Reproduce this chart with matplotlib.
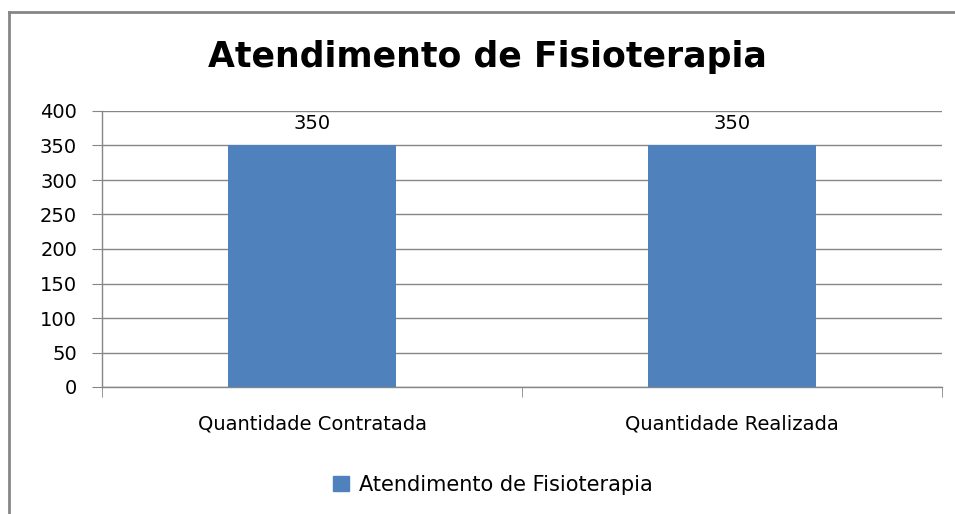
import matplotlib
matplotlib.use("Agg")
import matplotlib.pyplot as plt
from matplotlib.patches import Rectangle
from matplotlib.lines import Line2D

title = "Atendimento de Fisioterapia"
categories = ["Quantidade Contratada", "Quantidade Realizada"]
series_name = "Atendimento de Fisioterapia"
values = [350, 350]
yticks = [0, 50, 100, 150, 200, 250, 300, 350, 400]

W, H = 955, 514
fig = plt.figure(figsize=(W / 100, H / 100), dpi=100)
plt.rcParams['font.family'] = ['DejaVu Sans']

grid_c = "#868686"
bar_c = "#4F81BD"
fs = 14

# outer border (left and top visible)
fig.add_artist(Line2D([8.5 / W, 8.5 / W], [0, 1 - 12 / H], transform=fig.transFigure,
                      color=grid_c, lw=2))
fig.add_artist(Line2D([8.5 / W, 1], [1 - 12 / H, 1 - 12 / H], transform=fig.transFigure,
                      color=grid_c, lw=2))

ax = fig.add_axes([102 / W, 1 - 387 / H, (942 - 102) / W, (387 - 111) / H])
x = list(range(len(categories)))
bars = ax.bar(x, values, width=0.4, color=bar_c, zorder=3)
ax.set_xlim(-0.5, len(categories) - 0.5)
ax.set_ylim(0, 400)
ax.set_yticks(yticks)
ax.yaxis.grid(True, color=grid_c, lw=1, zorder=0)
ax.tick_params(axis='y', length=7, color=grid_c, labelsize=fs, pad=11)
ax.set_xticks(x)
ax.set_xticklabels(categories)
ax.tick_params(axis='x', which='major', length=0, labelsize=fs, pad=20)
ax.set_xticks([i - 0.5 for i in range(len(categories) + 1)], minor=True)
ax.tick_params(axis='x', which='minor', length=7, color=grid_c)
for s in ['top', 'right']:
    ax.spines[s].set_visible(False)
for s in ['left', 'bottom']:
    ax.spines[s].set_color(grid_c)
    ax.spines[s].set_linewidth(1)

for b, v in zip(bars, values):
    ax.annotate(str(v), (b.get_x() + b.get_width() / 2, v), xytext=(0, 9),
                textcoords='offset points', ha='center', va='bottom', fontsize=fs)

fig.text(487 / W, 1 - 57 / H, title, ha='center', va='center', fontsize=25, fontweight='bold')

leg = fig.legend(handles=[Rectangle((0, 0), 1, 1, color=bar_c)], labels=[series_name],
                 loc='center', bbox_to_anchor=(493 / W, 1 - 485 / H), frameon=False,
                 fontsize=fs + 1, handlelength=0.75, handleheight=0.75, handletextpad=0.5)

fig.savefig("out.png", dpi=100)
